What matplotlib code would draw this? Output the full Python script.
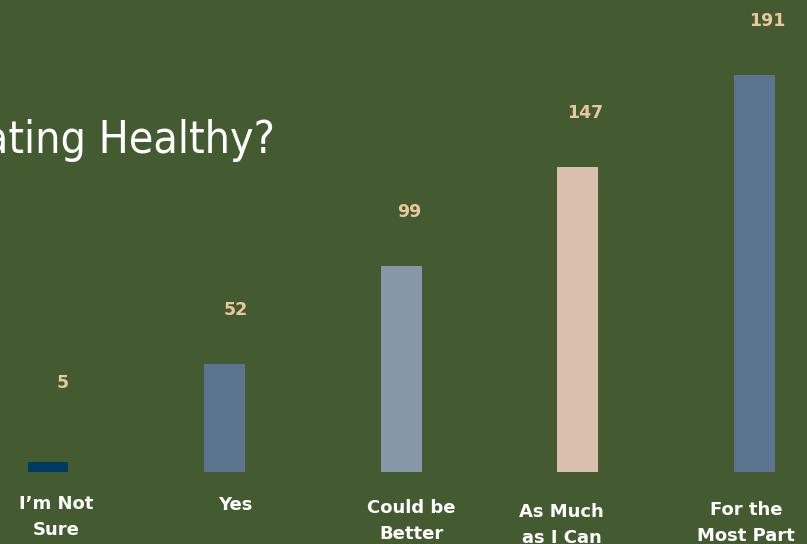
import matplotlib
matplotlib.use("Agg")
import matplotlib.pyplot as plt

# data
categories = ["I\u2019m Not\nSure", "Yes", "Could be\nBetter", "As Much\nas I Can", "For the\nMost Part"]
values = [5, 52, 99, 147, 191]
bar_colors = ["#003a63", "#5b7490", "#8797a8", "#d9bfad", "#5b7490"]
title = "Are We Eating Healthy?"

bg = "#445a31"

# label nudges in pixels (the source layout is a bit uneven)
cat_dx = [8, 11, 10, -16, -8]
cat_dy = [0, -1, -4, -8, -6]
val_dx = [15, 11, 8, 8, 13]

fig = plt.figure(figsize=(8.07, 5.44), dpi=100)
fig.patch.set_facecolor(bg)
ax = fig.add_axes([0, 0, 1, 1])
ax.set_facecolor(bg)

x = list(range(len(values)))
ax.bar(x, values, width=0.232, color=bar_colors)
ax.set_xlim(-0.272, 4.300)
ax.set_ylim(-34.6, 227.1)
ax.axis("off")

# value labels
for i, v in enumerate(values):
    yv = max(v, 17)
    ax.annotate(str(v), (i, yv), xytext=(val_dx[i], 54), textcoords="offset pixels",
                ha="center", va="center", color="#e8c99b", fontsize=12.5,
                fontweight="bold", family="DejaVu Sans")

# category labels
for i, c in enumerate(categories):
    ax.annotate(c, (i, 0), xytext=(cat_dx[i], -23 + cat_dy[i]), textcoords="offset pixels",
                ha="center", va="top", color="white", fontsize=13,
                fontweight="bold", family="DejaVu Sans", linespacing=1.6,
                annotation_clip=False)

fig.text(275 / 807, 1 - 153 / 544, title, ha="right", va="baseline", color="white",
         fontsize=32, family="DejaVu Sans", fontstretch="condensed", fontweight="light")

fig.savefig("out.png", dpi=100, facecolor=bg)
